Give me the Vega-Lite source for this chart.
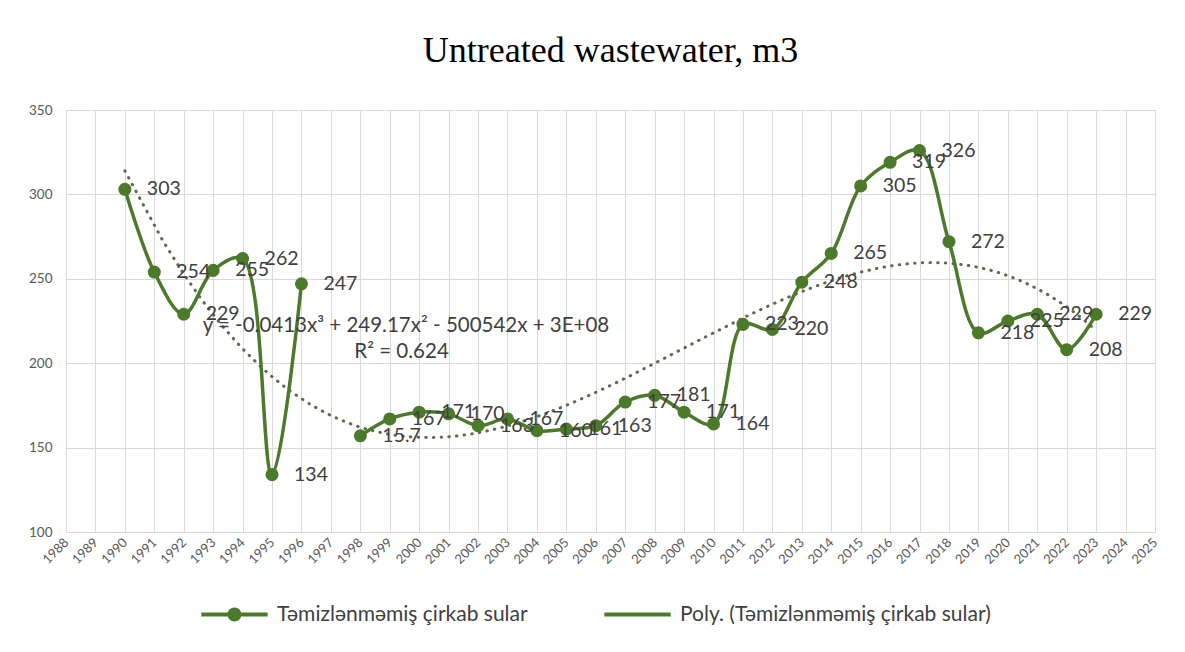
{
  "$schema": "https://vega.github.io/schema/vega-lite/v6.json",
  "autosize": {"type": "none"},
  "width": 1089,
  "height": 422,
  "padding": {"left": 66, "top": 110, "right": 30, "bottom": 120},
  "background": "white",
  "title": {
    "text": "Untreated wastewater, m3",
    "font": "Liberation Serif",
    "fontSize": 36,
    "fontWeight": "normal",
    "color": "#000000",
    "anchor": "middle",
    "baseline": "alphabetic",
    "offset": 5
  },
  "config": {
    "view": {"stroke": null},
    "axis": {
      "labelFont": "Lato",
      "labelColor": "#595959",
      "gridColor": "#d9d9d9",
      "gridWidth": 1,
      "domainColor": "#d9d9d9",
      "ticks": false,
      "title": null
    }
  },
  "datasets": {
    "main": [
      {"year": 1990, "value": 303, "label": "303", "seg": "a"},
      {"year": 1991, "value": 254, "label": "254", "seg": "a"},
      {"year": 1992, "value": 229, "label": "229", "seg": "a"},
      {"year": 1993, "value": 255, "label": "255", "seg": "a"},
      {"year": 1994, "value": 262, "label": "262", "seg": "a"},
      {"year": 1995, "value": 134, "label": "134", "seg": "a"},
      {"year": 1996, "value": 247, "label": "247", "seg": "a"},
      {"year": 1998, "value": 157, "label": "15.7", "seg": "b"},
      {"year": 1999, "value": 167, "label": "167", "seg": "b"},
      {"year": 2000, "value": 171, "label": "171", "seg": "b"},
      {"year": 2001, "value": 170, "label": "170", "seg": "b"},
      {"year": 2002, "value": 163, "label": "163", "seg": "b"},
      {"year": 2003, "value": 167, "label": "167", "seg": "b"},
      {"year": 2004, "value": 160, "label": "160", "seg": "b"},
      {"year": 2005, "value": 161, "label": "161", "seg": "b"},
      {"year": 2006, "value": 163, "label": "163", "seg": "b"},
      {"year": 2007, "value": 177, "label": "177", "seg": "b"},
      {"year": 2008, "value": 181, "label": "181", "seg": "b"},
      {"year": 2009, "value": 171, "label": "171", "seg": "b"},
      {"year": 2010, "value": 164, "label": "164", "seg": "b"},
      {"year": 2011, "value": 223, "label": "223", "seg": "b"},
      {"year": 2012, "value": 220, "label": "220", "seg": "b"},
      {"year": 2013, "value": 248, "label": "248", "seg": "b"},
      {"year": 2014, "value": 265, "label": "265", "seg": "b"},
      {"year": 2015, "value": 305, "label": "305", "seg": "b"},
      {"year": 2016, "value": 319, "label": "319", "seg": "b"},
      {"year": 2017, "value": 326, "label": "326", "seg": "b"},
      {"year": 2018, "value": 272, "label": "272", "seg": "b"},
      {"year": 2019, "value": 218, "label": "218", "seg": "b"},
      {"year": 2020, "value": 225, "label": "225", "seg": "b"},
      {"year": 2021, "value": 229, "label": "229", "seg": "b"},
      {"year": 2022, "value": 208, "label": "208", "seg": "b"},
      {"year": 2023, "value": 229, "label": "229", "seg": "b"}
    ],
    "eq": [
      {"year": 1999.55, "value": 222, "text": "y = -0.0413x³ + 249.17x² - 500542x + 3E+08"},
      {"year": 1999.4, "value": 206.5, "text": "R² = 0.624"}
    ]
  },
  "encoding": {
    "x": {
      "field": "year",
      "type": "quantitative",
      "scale": {"domain": [1988, 2025], "nice": false, "zero": false},
      "axis": {
        "values": [1988,1989,1990,1991,1992,1993,1994,1995,1996,1997,1998,1999,2000,2001,2002,2003,2004,2005,2006,2007,2008,2009,2010,2011,2012,2013,2014,2015,2016,2017,2018,2019,2020,2021,2022,2023,2024,2025],
        "format": "d",
        "labelAngle": -45,
        "labelAlign": "right",
        "labelBaseline": "middle",
        "labelPadding": 8,
        "labelFontSize": 13,
        "labelOverlap": false,
        "domain": true
      }
    },
    "y": {
      "field": "value",
      "type": "quantitative",
      "scale": {"domain": [100, 350], "nice": false, "zero": false},
      "axis": {
        "values": [100, 150, 200, 250, 300, 350],
        "labelPadding": 14,
        "labelFontSize": 13.5,
        "domain": false
      }
    }
  },
  "layer": [
    {
      "data": {"name": "main"},
      "transform": [
        {"regression": "value", "on": "year", "method": "poly", "order": 3}
      ],
      "mark": {
        "type": "line",
        "strokeWidth": 3,
        "strokeDash": [0.5, 7.2],
        "strokeCap": "round"
      },
      "encoding": {
        "color": {
          "datum": "Poly. (Təmizlənməmiş çirkab sular)",
          "type": "nominal",
          "scale": {
            "domain": ["Təmizlənməmiş çirkab sular", "Poly. (Təmizlənməmiş çirkab sular)"],
            "range": ["#4b7a2b", "#5d6a50"]
          },
          "legend": {
            "orient": "none",
            "legendX": 135,
            "legendY": 471,
            "direction": "horizontal",
            "columns": 2,
            "gridAlign": "none",
            "columnPadding": 76,
            "padding": 0,
            "title": null,
            "symbolSize": 4400,
            "labelOffset": 9,
            "labelFont": "Lato",
            "labelFontSize": 21,
            "labelColor": "#404040",
            "labelLimit": 500,
            "encode": {
              "symbols": {
                "update": {
                  "shape": {"signal": "datum.value === 'Təmizlənməmiş çirkab sular' ? 'M-1,-0.06H1V0.06H-1Z M0.21,0A0.21,0.21 0 1,1 -0.21,0A0.21,0.21 0 1,1 0.21,0Z' : 'M-1,-0.06H1V0.06H-1Z'"},
                  "fill": {"value": "#4b7a2b"},
                  "fillOpacity": {"value": 1},
                  "stroke": {"value": "transparent"},
                  "strokeWidth": {"value": 0},
                  "opacity": {"value": 1}
                }
              }
            }
          }
        }
      }
    },
    {
      "data": {"name": "main"},
      "mark": {"type": "line", "interpolate": "catmull-rom", "strokeWidth": 3.5},
      "encoding": {
        "color": {"datum": "Təmizlənməmiş çirkab sular", "type": "nominal"},
        "detail": {"field": "seg", "type": "nominal"}
      }
    },
    {
      "data": {"name": "main"},
      "mark": {"type": "circle", "size": 170, "opacity": 1, "color": "#4b7a2b"}
    },
    {
      "data": {"name": "main"},
      "mark": {
        "type": "text",
        "align": "left",
        "baseline": "middle",
        "dx": 22,
        "font": "Lato",
        "fontSize": 19.5,
        "color": "#404040"
      },
      "encoding": {"text": {"field": "label"}}
    },
    {
      "data": {"name": "eq"},
      "mark": {
        "type": "text",
        "align": "center",
        "baseline": "middle",
        "font": "Lato",
        "fontSize": 20.5,
        "color": "#404040"
      },
      "encoding": {"text": {"field": "text"}}
    }
  ]
}
